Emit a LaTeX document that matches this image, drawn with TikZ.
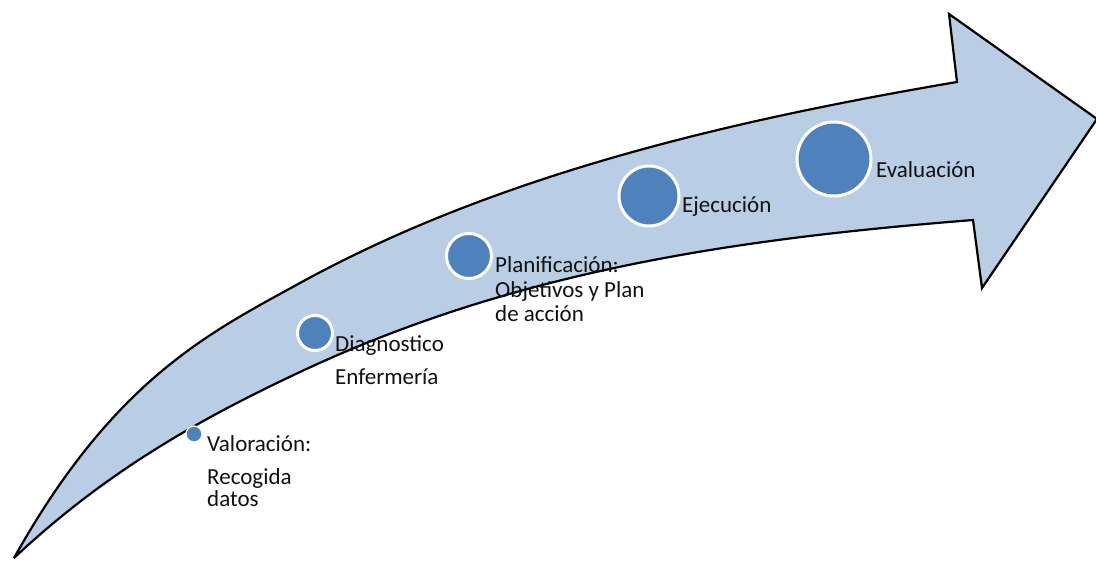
\documentclass[tikz,border=0pt]{standalone}
\usepackage{fontspec}
\setmainfont{Carlito}
\definecolor{arrowfill}{HTML}{B9CDE5}
\definecolor{dotblue}{HTML}{4F81BD}
\definecolor{txt}{HTML}{111111}
\tikzset{
  dot/.style={circle, fill=dotblue, draw=white, line width=3pt, inner sep=0pt},
  lbl/.style={anchor=base west, inner sep=0pt, text=txt, font=\fontsize{23}{27}\selectfont},
}
\begin{document}
\begin{tikzpicture}[x=1pt, y=-1pt]
\useasboundingbox (0,0) rectangle (1096,561);
\filldraw[fill=arrowfill, draw=black, line width=2.2pt, line join=miter, miter limit=4]
  (14,558) .. controls (114,379) and (210,332.5) .. (300,283)
  .. controls (500,173) and (737,119.4) .. (957,82)
  -- (949,14) -- (1097,119) -- (982,288) -- (973,220)
  .. controls (743,238.4) and (520,268.6) .. (300,372)
  .. controls (205,416.65) and (109,468.75) .. (14,558) -- cycle;
\node[dot, minimum size=16pt, line width=1.2pt] (d1) at (194,434) {};
\node[dot, minimum size=35pt] (d2) at (315,333) {};
\node[dot, minimum size=45pt] (d3) at (469,256) {};
\node[dot, minimum size=60pt] (d4) at (649,196) {};
\node[dot, minimum size=74pt] (d5) at (834,159) {};
\node[lbl] (t1a) at (207,452) {Valoración:};
\node[lbl] (t1b) at (207,484) {Recogida};
\node[lbl] (t1c) at (207,506) {datos};
\node[lbl] (t2a) at (335,352) {Diagnostico};
\node[lbl] (t2b) at (335,385) {Enfermería};
\node[lbl] (t3a) at (495,273) {Planificación:};
\node[lbl] (t3b) at (495,298) {Objetivos y Plan};
\node[lbl] (t3c) at (495,322) {de acción};
\node[lbl] (t4) at (682,213) {Ejecución};
\node[lbl] (t5) at (876,178) {Evaluación};
\end{tikzpicture}
\end{document}
